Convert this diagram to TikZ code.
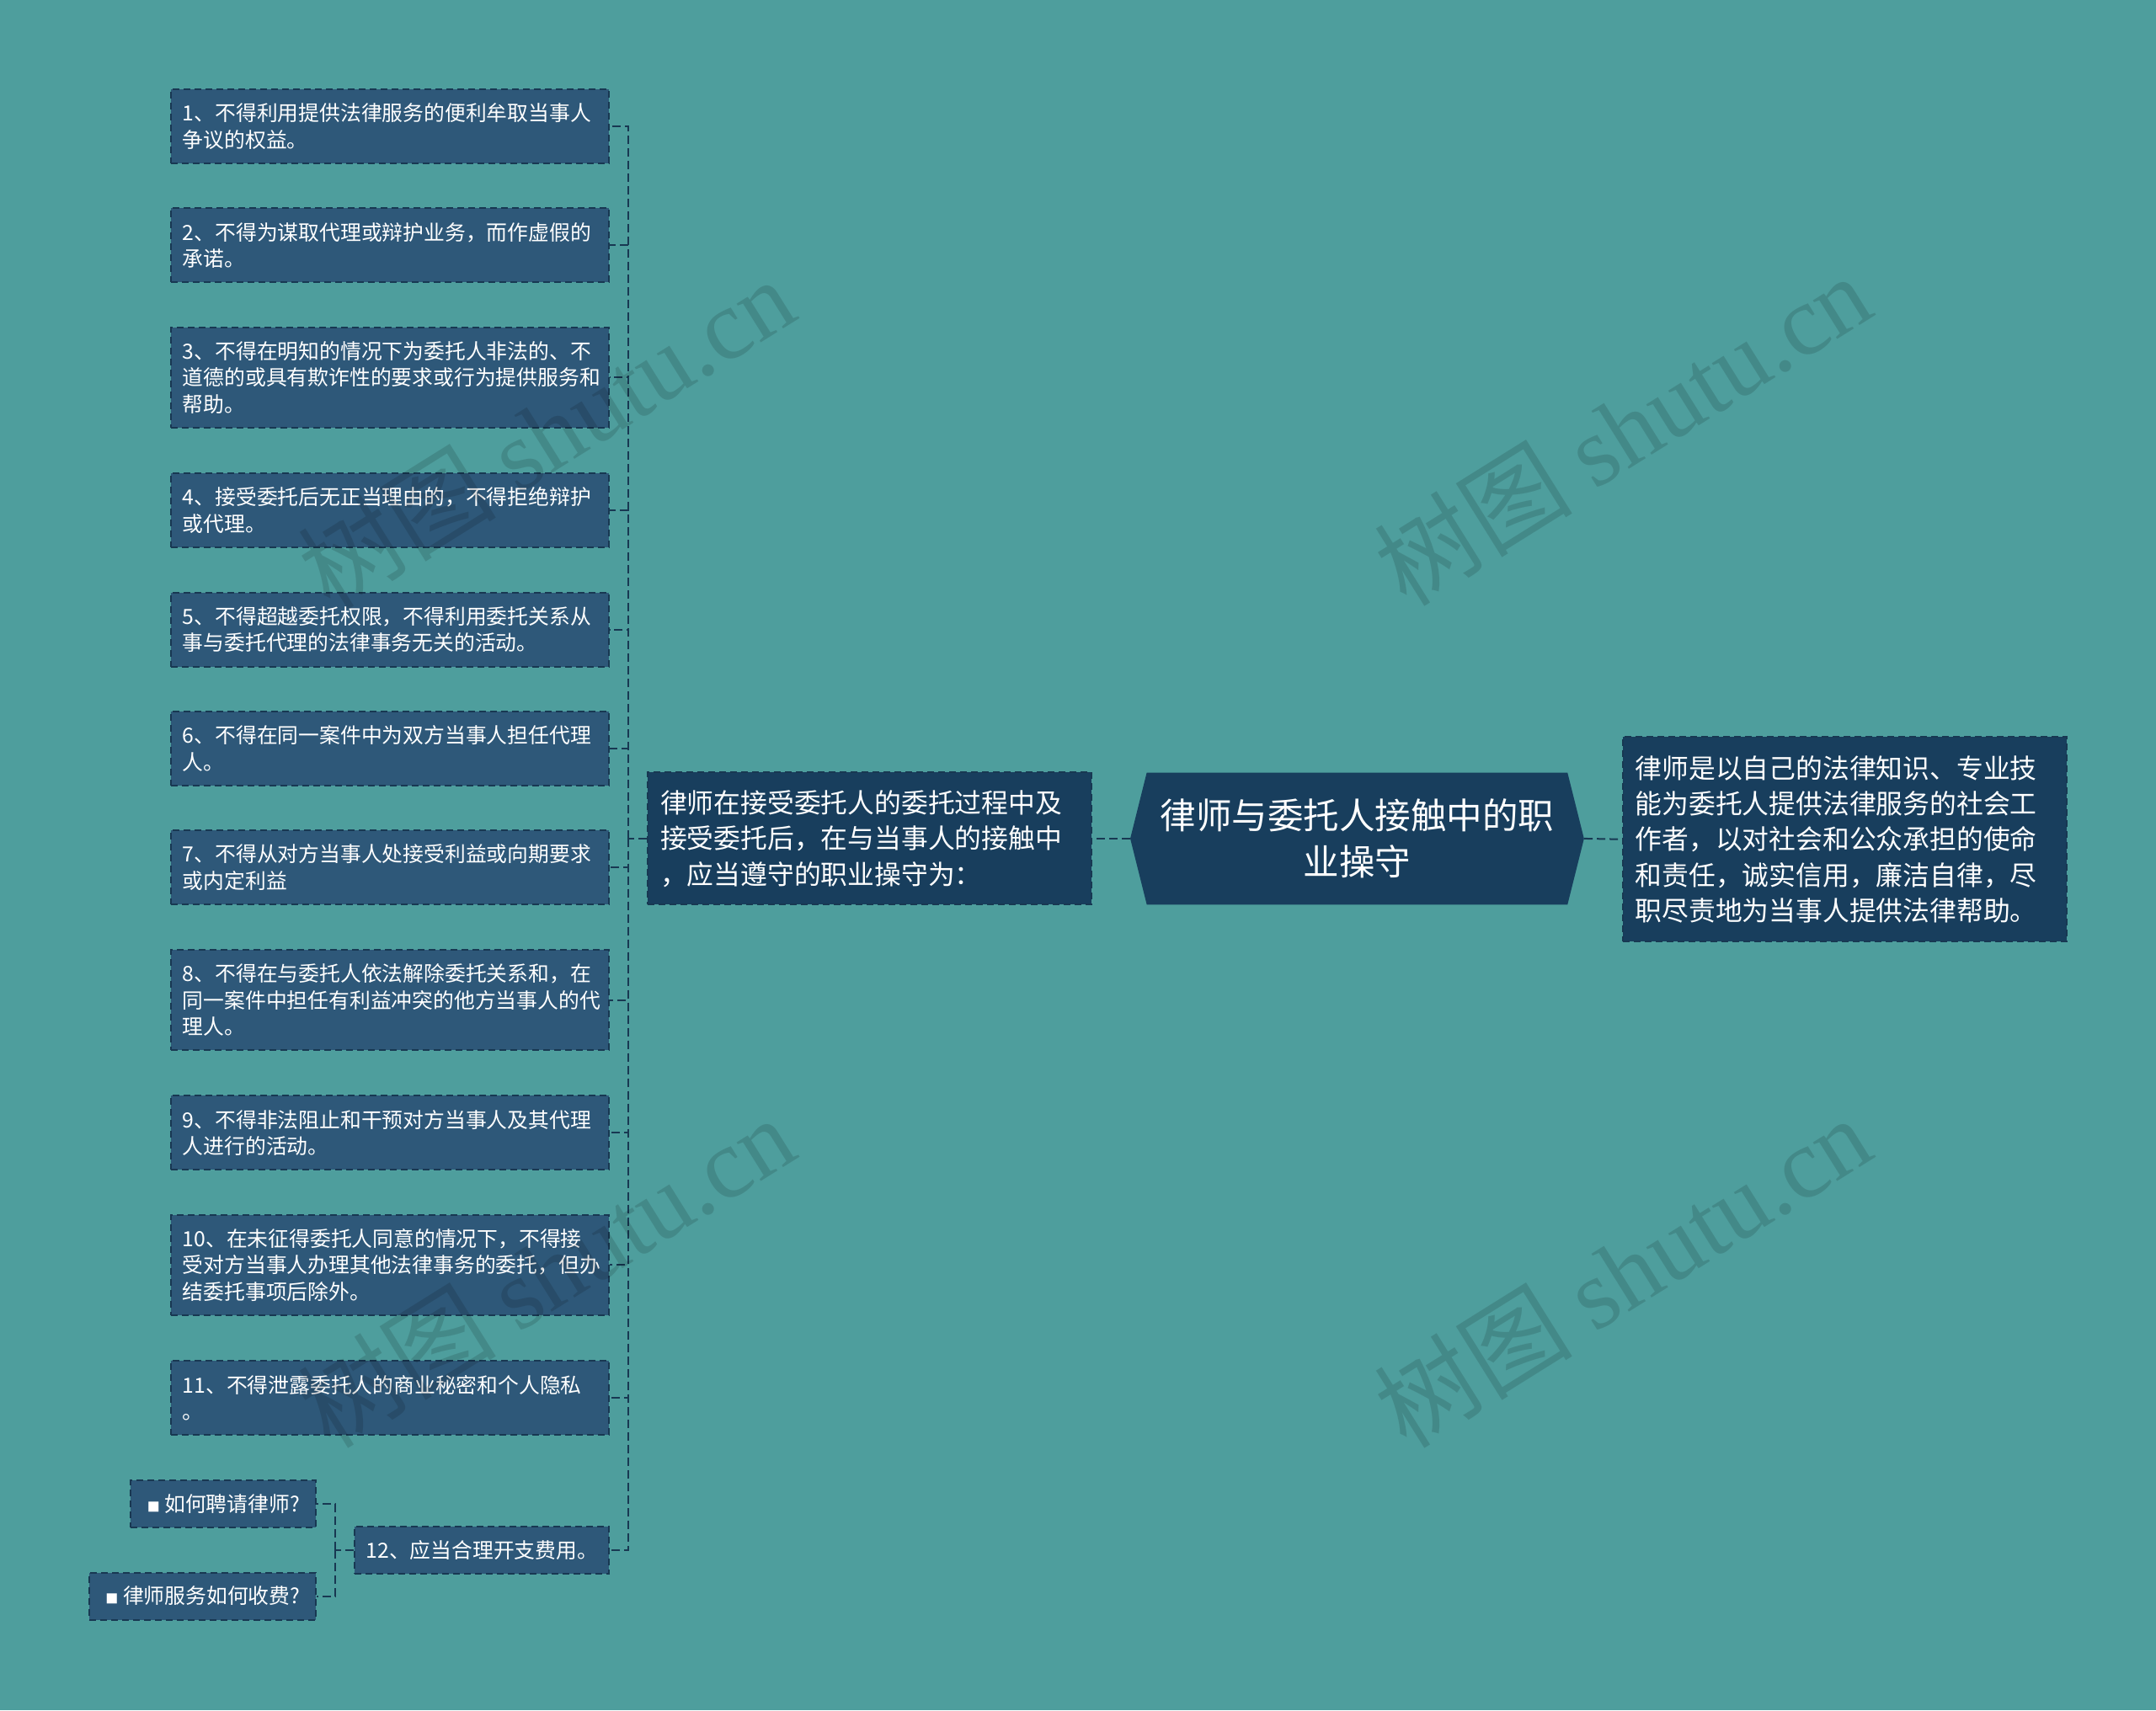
\documentclass[tikz,border=0pt]{standalone}
\usepackage{fontspec}
\setmainfont{Noto Sans CJK SC}
\newfontfamily\wmlatin{Liberation Serif}
\definecolor{bgc}{RGB}{78,158,157}
\definecolor{leaff}{RGB}{46,88,121}
\definecolor{darkf}{RGB}{24,62,93}
\definecolor{linec}{RGB}{24,56,82}
\begin{document}
\begin{tikzpicture}[x=1.6327pt,y=-1.6327pt,
  box/.style={draw=linec, line width=2pt, dash pattern=on 8pt off 5pt, text=white, inner ysep=0pt},
  leaf/.style={box, fill=leaff, inner xsep=14pt, text width=492pt, align=left, minimum height=88pt, font=\fontsize{24.8}{31.5}\selectfont},
  leafthree/.style={leaf, minimum height=119pt},
  small/.style={box, fill=leaff, inner xsep=12pt, align=left, minimum height=56pt, font=\fontsize{24.8}{31}\selectfont},
  mainbox/.style={box, fill=darkf, inner xsep=15pt, text width=497pt, align=left, font=\fontsize{31.8}{42.4}\selectfont},
  rootn/.style={text=white, inner sep=0pt, minimum width=539pt, minimum height=157pt, text width=500pt, align=center, font=\fontsize{42.5}{55.5}\selectfont},
  conn/.style={draw=linec, line width=2pt, dash pattern=on 10pt off 5pt},
  wm/.style={rotate=32, text=black, opacity=0.13, font=\fontsize{118}{118}\selectfont}
]
\fill[bgc] (0,0) rectangle (1568,1244);
\useasboundingbox (0,0) rectangle (1568,1244);

% root hexagon
\fill[darkf] (822,610) -- (834,562) -- (1140,562) -- (1152,610) -- (1140,658) -- (834,658) -- cycle;
\node[rootn] (root) at (987,610) {律师与委托人接触中的职\\业操守};

\node[mainbox, minimum height=157pt] (mid) at (632.5,610) {律师在接受委托人的委托过程中及\\接受委托后，在与当事人的接触中\\，应当遵守的职业操守为：};
\node[mainbox, minimum height=243pt] (desc) at (1341.5,610.5) {律师是以自己的法律知识、专业技\\能为委托人提供法律服务的社会工\\作者，以对社会和公众承担的使命\\和责任，诚实信用，廉洁自律，尽\\职尽责地为当事人提供法律帮助。};

\node[leaf] (l1) at (283.5,92) {1、不得利用提供法律服务的便利牟取当事人\\争议的权益。};
\node[leaf] (l2) at (283.5,178.5) {2、不得为谋取代理或辩护业务，而作虚假的\\承诺。};
\node[leafthree] (l3) at (283.5,274.5) {3、不得在明知的情况下为委托人非法的、不\\道德的或具有欺诈性的要求或行为提供服务和\\帮助。};
\node[leaf] (l4) at (283.5,371) {4、接受委托后无正当理由的，不得拒绝辩护\\或代理。};
\node[leaf] (l5) at (283.5,458) {5、不得超越委托权限，不得利用委托关系从\\事与委托代理的法律事务无关的活动。};
\node[leaf] (l6) at (283.5,544.5) {6、不得在同一案件中为双方当事人担任代理\\人。};
\node[leaf] (l7) at (283.5,631) {7、不得从对方当事人处接受利益或向期要求\\或内定利益};
\node[leafthree] (l8) at (283.5,727.5) {8、不得在与委托人依法解除委托关系和，在\\同一案件中担任有利益冲突的他方当事人的代\\理人。};
\node[leaf] (l9) at (283.5,824) {9、不得非法阻止和干预对方当事人及其代理\\人进行的活动。};
\node[leafthree] (l10) at (283.5,920) {10、在未征得委托人同意的情况下，不得接\\受对方当事人办理其他法律事务的委托，但办\\结委托事项后除外。};
\node[leaf] (l11) at (283.5,1017) {11、不得泄露委托人的商业秘密和个人隐私\\。};
\node[small, minimum width=302pt] (l12) at (350.5,1127.5) {12、应当合理开支费用。};
\node[small, minimum width=220pt] (q1) at (162.5,1094) {{\fontsize{15}{15}\selectfont ■} 如何聘请律师?};
\node[small, minimum width=269pt] (q2) at (147.5,1161) {{\fontsize{15}{15}\selectfont ■} 律师服务如何收费?};

% connectors
\draw[conn] (root.west) -- (mid.east);
\draw[conn] (root.east) -- (desc.west);
\coordinate (bus) at (457,610);
\draw[conn] (mid.west) -- (bus);
\foreach \n in {l1,l2,l3,l4,l5,l6,l7,l8,l9,l10,l11,l12}
  \draw[conn] (bus) |- (\n.east);
\coordinate (bus2) at (244,1127.5);
\draw[conn] (l12.west) -- (bus2);
\draw[conn] (bus2) |- (q1.east);
\draw[conn] (bus2) |- (q2.east);

% watermarks (on top, faint)
\node[wm] (w1) at (397,315) {树图 {\wmlatin shutu.cn}};
\node[wm] (w2) at (1180,312) {树图 {\wmlatin shutu.cn}};
\node[wm] (w3) at (397,925) {树图 {\wmlatin shutu.cn}};
\node[wm] (w4) at (1180,925) {树图 {\wmlatin shutu.cn}};
\end{tikzpicture}
\end{document}
